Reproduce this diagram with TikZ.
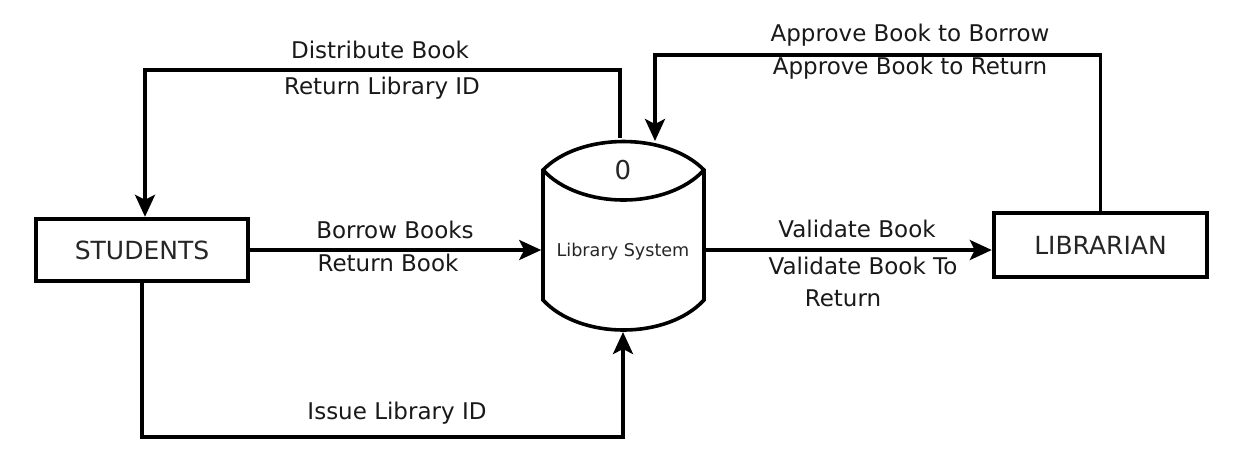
\documentclass[tikz,border=0pt]{standalone}
\usepackage{fontspec}
\setmainfont{DejaVu Sans}
\usetikzlibrary{arrows.meta}
\begin{document}
\begin{tikzpicture}[x=0.5pt,y=-0.5pt,
  line width=1.8pt,
  ent/.style={draw,line width=2.2pt,minimum width=106pt,minimum height=31pt,inner sep=0pt,font=\fontsize{12.5}{14}\selectfont,text=black!85},
  lbl/.style={font=\fontsize{11.5}{13}\selectfont,text=black!90,inner sep=0pt},
  flow/.style={-{Stealth[length=11pt,width=10pt,inset=2.5pt]}}]
\useasboundingbox (0,0) rectangle (1252,452);
% entities
\node[ent] (stu) at (142,250) {STUDENTS};
\node[ent,minimum width=106.5pt,minimum height=32pt] (lib) at (1100.5,245) {LIBRARIAN};
% process (cylinder)
\node[minimum width=80.5pt,minimum height=97pt,inner sep=0pt] (sys) at (623.5,235) {};
\draw (543,170) .. controls (580,132) and (667,132) .. (704,170)
      -- (704,300) .. controls (667,340) and (580,340) .. (543,300) -- cycle;
\draw (543,170) .. controls (580,210) and (667,210) .. (704,170);
\node[font=\fontsize{13}{15}\selectfont,text=black!85] (num) at (623,170) {0};
\node[font=\fontsize{8.8}{10}\selectfont,text=black!85] (sysl) at (623,252) {Library System};
\coordinate (sysOut) at (620,138);
\coordinate (sysIn) at (655,141);
\coordinate (sysBot) at (623,332);
\coordinate (tl) at (145,70);
\coordinate (tr) at (655,55);
\coordinate (bl) at (142,437);
% connectors
\draw[flow] (sysOut) |- (tl) -- (tl |- stu.north);
\draw[flow] (lib.north) |- (tr) -- (sysIn);
\draw[flow] (stu.south) -- (bl) -| (sysBot);
\draw[flow] (stu.east) -- (stu.east -| sys.west);
\draw[flow] (sys.east |- stu.east) -- (lib.west |- stu.east);
% labels
\node[lbl] (l1) at (380,50) {Distribute Book};
\node[lbl] (l2) at (382,88) {Return Library ID};
\node[lbl] (l3) at (395,230) {Borrow Books};
\node[lbl] (l4) at (388,263) {Return Book};
\node[lbl] (l5) at (857,229) {Validate Book};
\node[lbl] (l6) at (863,266) {Validate Book To};
\node[lbl] (l7) at (843,298) {Return};
\node[lbl] (l8) at (910,35) {Approve Book to Borrow};
\node[lbl] (l9) at (910,68) {Approve Book to Return};
\node[lbl] (l10) at (397,413) {Issue Library ID};
\end{tikzpicture}
\end{document}
